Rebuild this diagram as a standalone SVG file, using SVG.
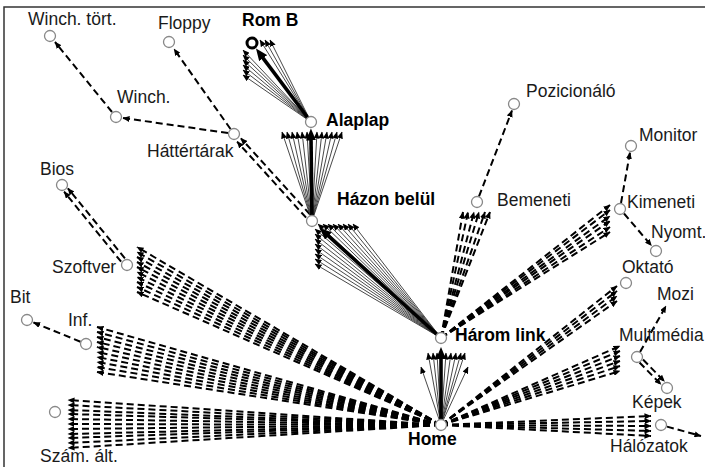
<svg xmlns="http://www.w3.org/2000/svg" width="705" height="467" viewBox="0 0 705 467">
  <style>
    .d { fill: none; stroke: #000; stroke-width: 2; stroke-dasharray: 7 4; marker-end: url(#ah); }
    .t { fill: none; stroke: #333; stroke-width: 0.9; marker-end: url(#ah); }
    .k { fill: none; stroke: #000; stroke-width: 3.6; marker-end: url(#ahBig); }
    .n { fill: #fff; stroke: #888; stroke-width: 1.3; }
    .lbl { font-family: "Liberation Sans", Arial, sans-serif; font-size: 17.5px; fill: #1a1a1a; }
    .b { font-weight: bold; fill: #000; }
  </style>
  <defs>
    <marker id="ah" markerUnits="userSpaceOnUse" markerWidth="7" markerHeight="6" viewBox="0 0 7 6" refX="6.5" refY="3" orient="auto">
      <path d="M0,0 L7,3 L0,6 z" fill="#000"/>
    </marker>
    <marker id="ahBig" markerUnits="userSpaceOnUse" markerWidth="12" markerHeight="10" viewBox="0 0 12 10" refX="3" refY="5" orient="auto">
      <path d="M0,0 L12,5 L0,10 z" fill="#000"/>
    </marker>
  </defs>
  <rect width="705" height="467" fill="#fff"/>
  <!-- frame -->
  <path d="M4,467 V7 H705" fill="none" stroke="#333" stroke-width="1.5"/>

  <g id="connectors">
    <!-- simple dashed links -->
    <line class="d" x1="112" y1="112" x2="55" y2="42"/>
    <line class="d" x1="228" y1="133" x2="123" y2="118"/>
    <line class="d" x1="230.5" y1="129" x2="174" y2="49"/>
    <line class="d" x1="309.9" y1="214.3" x2="240.9" y2="138.3"/>
    <line class="d" x1="306.1" y1="217.7" x2="237.1" y2="141.7"/>
    <line class="d" x1="124.9" y1="258.3" x2="67.9" y2="188.3"/>
    <line class="d" x1="121.1" y1="261.7" x2="64.1" y2="191.7"/>
    <line class="d" x1="80.5" y1="341.7" x2="33.5" y2="322.5"/>
    <line class="d" x1="479" y1="196.4" x2="512" y2="110.5"/>
    <line class="d" x1="621" y1="203" x2="630" y2="152.5"/>
    <line class="d" x1="624" y1="213.5" x2="651.5" y2="245.7"/>
    <line class="d" x1="640" y1="352" x2="666" y2="306"/>
    <line class="d" x1="643" y1="359.5" x2="664.5" y2="381.5"/>
    <line class="d" x1="639.5" y1="362.5" x2="661" y2="384.5"/>
    <line class="d" x1="667" y1="426.6" x2="701" y2="436"/>

    <!-- Alaplap to Rom B -->
    <line class="t" x1="311" y1="122" x2="243" y2="50"/>
    <line class="t" x1="311" y1="122" x2="243" y2="55"/>
    <line class="t" x1="311" y1="122" x2="243" y2="60"/>
    <line class="t" x1="311" y1="122" x2="243" y2="65"/>
    <line class="t" x1="311" y1="122" x2="243" y2="70"/>
    <line class="t" x1="311" y1="122" x2="243" y2="75"/>
    <line class="t" x1="311" y1="122" x2="260" y2="40"/>
    <line class="t" x1="311" y1="122" x2="265" y2="40"/>
    <line class="t" x1="311" y1="122" x2="270" y2="40"/>
    <line class="k" x1="311" y1="122" x2="261.4" y2="55.8"/>

    <!-- Házon belül to Alaplap -->
    <line class="t" x1="312" y1="221" x2="282" y2="132"/>
    <line class="t" x1="312" y1="221" x2="287" y2="132"/>
    <line class="t" x1="312" y1="221" x2="292" y2="132"/>
    <line class="t" x1="312" y1="221" x2="297" y2="132"/>
    <line class="t" x1="312" y1="221" x2="302" y2="132"/>
    <line class="t" x1="312" y1="221" x2="307" y2="132"/>
    <line class="t" x1="312" y1="221" x2="317" y2="132"/>
    <line class="t" x1="312" y1="221" x2="322" y2="132"/>
    <line class="t" x1="312" y1="221" x2="327" y2="132"/>
    <line class="t" x1="312" y1="221" x2="332" y2="132"/>
    <line class="t" x1="312" y1="221" x2="337" y2="132"/>
    <line class="t" x1="312" y1="221" x2="342" y2="132"/>
    <line class="k" x1="312" y1="221" x2="311" y2="137.5"/>

    <!-- Három link to Házon belül -->
    <line class="t" x1="441" y1="338" x2="318" y2="224"/>
    <line class="t" x1="441" y1="338" x2="323" y2="224"/>
    <line class="t" x1="441" y1="338" x2="328" y2="224"/>
    <line class="t" x1="441" y1="338" x2="333" y2="224"/>
    <line class="t" x1="441" y1="338" x2="338" y2="224"/>
    <line class="t" x1="441" y1="338" x2="343" y2="224"/>
    <line class="t" x1="441" y1="338" x2="348" y2="224"/>
    <line class="t" x1="441" y1="338" x2="353" y2="224"/>
    <line class="t" x1="441" y1="338" x2="315" y2="229"/>
    <line class="t" x1="441" y1="338" x2="315" y2="234"/>
    <line class="t" x1="441" y1="338" x2="315" y2="239"/>
    <line class="t" x1="441" y1="338" x2="315" y2="244"/>
    <line class="t" x1="441" y1="338" x2="315" y2="249"/>
    <line class="t" x1="441" y1="338" x2="315" y2="254"/>
    <line class="t" x1="441" y1="338" x2="315" y2="259"/>
    <line class="t" x1="441" y1="338" x2="315" y2="264"/>
    <line class="k" x1="441" y1="338" x2="326.2" y2="234"/>

    <!-- Home to Három link -->
    <line class="t" x1="441" y1="425" x2="428" y2="353"/>
    <line class="t" x1="441" y1="425" x2="433" y2="353"/>
    <line class="t" x1="441" y1="425" x2="437" y2="353"/>
    <line class="t" x1="441" y1="425" x2="446" y2="353"/>
    <line class="t" x1="441" y1="425" x2="451" y2="353"/>
    <line class="t" x1="441" y1="425" x2="456" y2="353"/>
    <line class="t" x1="441" y1="425" x2="461" y2="353"/>
    <line class="t" x1="441" y1="425" x2="465" y2="353"/>
    <line class="t" x1="441" y1="425" x2="421" y2="367"/>
    <line class="t" x1="441" y1="425" x2="468" y2="367"/>
    <line class="k" x1="441" y1="425" x2="441" y2="356"/>

    <!-- Home to Szám. ált. -->
    <line class="d" x1="441" y1="425" x2="68" y2="400"/>
    <line class="d" x1="441" y1="425" x2="68" y2="405"/>
    <line class="d" x1="441" y1="425" x2="68" y2="410"/>
    <line class="d" x1="441" y1="425" x2="68" y2="414"/>
    <line class="d" x1="441" y1="425" x2="68" y2="419"/>
    <line class="d" x1="441" y1="425" x2="68" y2="424"/>
    <line class="d" x1="441" y1="425" x2="68" y2="429"/>
    <line class="d" x1="441" y1="425" x2="68" y2="434"/>
    <line class="d" x1="441" y1="425" x2="68" y2="438"/>
    <line class="d" x1="441" y1="425" x2="68" y2="443"/>
    <line class="d" x1="441" y1="425" x2="68" y2="448"/>

    <!-- Home to Inf. -->
    <line class="d" x1="441" y1="425" x2="97" y2="327"/>
    <line class="d" x1="441" y1="425" x2="97" y2="332"/>
    <line class="d" x1="441" y1="425" x2="97" y2="337"/>
    <line class="d" x1="441" y1="425" x2="97" y2="342"/>
    <line class="d" x1="441" y1="425" x2="97" y2="347"/>
    <line class="d" x1="441" y1="425" x2="97" y2="352"/>
    <line class="d" x1="441" y1="425" x2="97" y2="357"/>
    <line class="d" x1="441" y1="425" x2="97" y2="362"/>
    <line class="d" x1="441" y1="425" x2="97" y2="367"/>
    <line class="d" x1="441" y1="425" x2="97" y2="372"/>

    <!-- Home to Szoftver -->
    <line class="d" x1="441" y1="425" x2="137" y2="247"/>
    <line class="d" x1="441" y1="425" x2="137" y2="252"/>
    <line class="d" x1="441" y1="425" x2="137" y2="257"/>
    <line class="d" x1="441" y1="425" x2="137" y2="262"/>
    <line class="d" x1="441" y1="425" x2="137" y2="267"/>
    <line class="d" x1="441" y1="425" x2="137" y2="272"/>
    <line class="d" x1="441" y1="425" x2="137" y2="277"/>
    <line class="d" x1="441" y1="425" x2="137" y2="282"/>
    <line class="d" x1="441" y1="425" x2="137" y2="287"/>
    <line class="d" x1="441" y1="425" x2="137" y2="292"/>

    <!-- Három link to Bemeneti -->
    <line class="d" x1="441" y1="338" x2="463" y2="212"/>
    <line class="d" x1="441" y1="338" x2="468" y2="212"/>
    <line class="d" x1="441" y1="338" x2="474" y2="212"/>
    <line class="d" x1="441" y1="338" x2="479" y2="212"/>
    <line class="d" x1="441" y1="338" x2="485" y2="212"/>
    <line class="d" x1="441" y1="338" x2="490" y2="212"/>

    <!-- Három link to Kimeneti -->
    <line class="d" x1="441" y1="338" x2="610" y2="205"/>
    <line class="d" x1="441" y1="338" x2="610" y2="210"/>
    <line class="d" x1="441" y1="338" x2="610" y2="216"/>
    <line class="d" x1="441" y1="338" x2="610" y2="221"/>
    <line class="d" x1="441" y1="338" x2="610" y2="227"/>
    <line class="d" x1="441" y1="338" x2="610" y2="232"/>

    <!-- Home to Oktató -->
    <line class="d" x1="441" y1="425" x2="617" y2="286"/>
    <line class="d" x1="441" y1="425" x2="617" y2="291"/>
    <line class="d" x1="441" y1="425" x2="617" y2="296"/>
    <line class="d" x1="441" y1="425" x2="617" y2="301"/>

    <!-- Home to Multimédia -->
    <line class="d" x1="441" y1="425" x2="620" y2="346"/>
    <line class="d" x1="441" y1="425" x2="620" y2="351"/>
    <line class="d" x1="441" y1="425" x2="620" y2="356"/>
    <line class="d" x1="441" y1="425" x2="620" y2="361"/>
    <line class="d" x1="441" y1="425" x2="620" y2="366"/>
    <line class="d" x1="441" y1="425" x2="620" y2="371"/>

    <!-- Home to Hálózatok -->
    <line class="d" x1="441" y1="425" x2="651" y2="416"/>
    <line class="d" x1="441" y1="425" x2="651" y2="421"/>
    <line class="d" x1="441" y1="425" x2="651" y2="426"/>
    <line class="d" x1="441" y1="425" x2="651" y2="431"/>
    <line class="d" x1="441" y1="425" x2="651" y2="436"/>
  </g>

  <g id="winch-tort"><circle class="n" cx="50" cy="36" r="5.5"/><text class="lbl" x="28" y="25">Winch. tört.</text></g>
  <g id="floppy"><circle class="n" cx="169" cy="42" r="5.5"/><text class="lbl" x="158" y="29">Floppy</text></g>
  <g id="winch"><circle class="n" cx="116" cy="117" r="5.5"/><text class="lbl" x="117" y="103">Winch.</text></g>
  <g id="hattertarak"><circle class="n" cx="234" cy="134" r="5.5"/><text class="lbl" x="147" y="157">Háttértárak</text></g>
  <g id="rom-b"><circle cx="252" cy="43" r="5" fill="#fff" stroke="#000" stroke-width="3"/><text class="lbl b" x="242" y="26">Rom B</text></g>
  <g id="alaplap"><circle class="n" cx="311" cy="122" r="5.5"/><text class="lbl b" x="326" y="126">Alaplap</text></g>
  <g id="hazon-belul"><circle class="n" cx="312" cy="221" r="5.5"/><text class="lbl b" x="337" y="205">Házon belül</text></g>
  <g id="harom-link"><circle class="n" cx="441" cy="338" r="5.5"/><text class="lbl b" x="455" y="341">Három link</text></g>
  <g id="home"><circle class="n" cx="441" cy="425" r="5.5"/><text class="lbl b" x="408" y="445">Home</text></g>
  <g id="bemeneti"><circle class="n" cx="477" cy="202" r="5.5"/><text class="lbl" x="497" y="206">Bemeneti</text></g>
  <g id="pozicionalo"><circle class="n" cx="514" cy="104" r="5.5"/><text class="lbl" x="526" y="97">Pozicionáló</text></g>
  <g id="monitor"><circle class="n" cx="631" cy="146" r="5.5"/><text class="lbl" x="639" y="141">Monitor</text></g>
  <g id="kimeneti"><circle class="n" cx="620" cy="209" r="5.5"/><text class="lbl" x="627" y="208">Kimeneti</text></g>
  <g id="nyomt"><circle class="n" cx="656" cy="251" r="5.5"/><text class="lbl" x="651" y="238">Nyomt.</text></g>
  <g id="oktato"><circle class="n" cx="626" cy="283" r="5.5"/><text class="lbl" x="622" y="273">Oktató</text></g>
  <g id="mozi"><text class="lbl" x="657" y="300">Mozi</text></g>
  <g id="multimedia"><circle class="n" cx="637" cy="357" r="5.5"/><text class="lbl" x="619" y="341">Multimédia</text></g>
  <g id="kepek"><circle class="n" cx="667" cy="388" r="5.5"/><text class="lbl" x="632" y="408">Képek</text></g>
  <g id="halozatok"><circle class="n" cx="661" cy="425" r="5.5"/><text class="lbl" x="610" y="452">Hálózatok</text></g>
  <g id="szam-alt"><circle class="n" cx="55" cy="412" r="5.5"/><text class="lbl" x="40" y="462">Szám. ált.</text></g>
  <g id="inf"><circle class="n" cx="86" cy="344" r="5.5"/><text class="lbl" x="68" y="326">Inf.</text></g>
  <g id="bit"><circle class="n" cx="27" cy="320" r="5.5"/><text class="lbl" x="10" y="303">Bit</text></g>
  <g id="szoftver"><circle class="n" cx="127" cy="265" r="5.5"/><text class="lbl" x="52" y="273">Szoftver</text></g>
  <g id="bios"><circle class="n" cx="62" cy="185" r="5.5"/><text class="lbl" x="40" y="175">Bios</text></g>
</svg>
